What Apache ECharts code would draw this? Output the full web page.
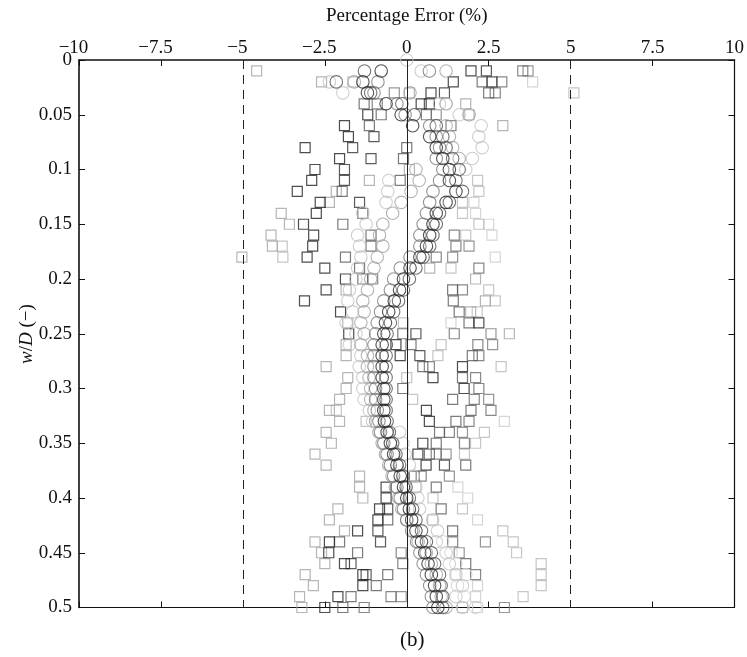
<!DOCTYPE html>
<html>
<head>
<meta charset="utf-8">
<script src="https://cdn.jsdelivr.net/npm/echarts@6/dist/echarts.min.js"></script>
<style>html,body{margin:0;padding:0;background:#fff;}#c{width:747px;height:657px;}</style>
</head>
<body>
<div id="c"></div>
<script>
// w/D levels (rows)
const wD = [0,0.01,0.02,0.03,0.04,0.05,0.06,0.07,0.08,0.09,
  0.10,0.11,0.12,0.13,0.14,0.15,0.16,0.17,0.18,0.19,
  0.20,0.21,0.22,0.23,0.24,0.25,0.26,0.27,0.28,0.29,
  0.30,0.31,0.32,0.33,0.34,0.35,0.36,0.37,0.38,0.39,
  0.40,0.41,0.42,0.43,0.44,0.45,0.46,0.47,0.48,0.49,0.50];
const xTicks = [-10,-7.5,-5,-2.5,0,2.5,5,7.5,10];
const yTicks = [0,0.05,0.1,0.15,0.2,0.25,0.3,0.35,0.4,0.45,0.5];

// Percentage error, squares (scattered cases)
const sqK1 = [null,1.96,1.42,0.74,0.44,-1.19,-1.9,-1.78,-3.1,-2.05,
  -2.8,-2.9,-3.34,-2.64,-2.76,-3.15,-2.84,-2.87,-3.04,-2.5,
  -1.87,-2.46,-3.12,-2.02,2.2,-1.77,-0.33,-0.2,1.7,0.8,
  1.75,null,0.6,0.69,null,0.49,0.34,0.59,null,-0.63,
  -0.63,-0.83,-0.88,-1.5,-2.36,-2.38,-1.9,-1.34,-1.34,-2.1,-2.5];
const sqK2 = [null,2.43,2.6,1.15,0.69,null,null,-1.0,-1.65,-1.09,
  -1.9,-1.9,null,-1.44,null,null,null,null,null,null,
  null,null,null,null,null,0.28,null,0.4,null,null,
  null,null,null,null,null,null,null,1.15,null,null,
  null,-0.58,null,-0.88,-0.8,null,-1.7,-1.24,null,null,null];
const sqG1 = [null,null,2.3,2.5,-1.3,-0.78,-1.14,null,0.0,-0.1,
  null,-0.2,-1.97,null,-1.34,-1.95,-1.09,-1.09,-1.87,-1.44,
  -1.34,1.4,1.42,1.6,1.9,-0.12,0.13,2.0,0.49,1.7,
  -0.12,1.4,1.96,1.5,1.0,0.9,0.69,1.8,0.23,0.9,
  null,1.05,-0.58,1.4,-2.05,-1.5,1.8,-0.58,-0.93,-1.7,-1.95];
const sqG2 = [null,3.54,2.9,2.7,-0.9,0.6,1.35,null,null,null,
  null,null,null,null,null,null,1.45,1.5,0.9,2.2,
  -1.04,1.7,null,null,null,1.45,2.17,2.2,0.69,2.1,
  2.2,2.06,2.57,1.9,1.3,1.76,0.9,null,0.44,null,
  null,null,null,null,1.4,-0.17,-0.12,2.1,null,-0.48,-1.3];
const sqG3 = [null,3.7,null,-0.38,null,0.9,null,null,null,null,
  null,null,null,null,null,null,null,1.9,1.4,null,
  null,null,null,null,null,2.57,2.62,null,null,null,
  null,2.5,null,null,1.7,null,1.2,null,1.3,null,
  null,null,null,null,2.4,1.6,null,null,null,-0.17,2.98];
const sqL1 = [null,-4.58,-2.6,0.08,1.8,1.9,2.93,null,null,null,
  0.08,-1.14,-2.15,-2.36,-3.83,-3.58,-4.14,-4.1,-5.03,0.7,
  2.1,-1.85,2.4,1.95,-1.8,3.13,-1.85,-1.85,-2.46,-1.8,
  -1.85,-2.05,-2.36,-2.05,-2.46,-2.3,-2.8,-2.46,-1.44,-1.44,
  -1.34,-2.1,-2.36,-1.9,-2.8,-2.6,-2.5,-3.1,-2.85,-3.27,-3.2];
const sqL2 = [null,null,-1.65,5.1,null,null,null,null,null,null,
  null,2.16,2.2,1.7,1.7,2.2,1.8,-3.8,-3.78,1.35,
  null,2.5,2.7,2.15,-0.1,null,1.05,0.95,2.88,0.0,
  null,0.18,-2.15,-1.24,2.37,2.1,1.76,null,null,0.28,
  0.8,1.7,0.79,2.93,3.25,3.35,4.1,4.1,4.1,3.55,1.7];
const sqL3 = [null,null,3.84,null,null,null,null,null,null,null,
  null,null,null,2.05,2.1,2.5,2.6,null,2.7,null,
  null,null,null,null,1.35,null,null,null,null,null,
  null,null,null,2.98,null,null,null,null,null,1.56,
  1.86,null,2.16,null,null,null,null,1.5,2.16,2.1,2.16];

// Percentage error, circles (tight S-shaped cases)
const cK = [null,-0.78,-1.34,-1.2,-0.63,-0.17,0.18,0.7,0.9,1.1,
  1.3,1.3,1.5,1.2,0.9,0.8,0.7,0.6,0.4,0.1,
  -0.1,-0.22,-0.38,-0.55,-0.65,-0.7,-0.75,-0.75,-0.75,-0.75,
  -0.7,-0.7,-0.7,-0.68,-0.6,-0.5,-0.4,-0.3,-0.2,-0.1,
  0.0,0.08,0.15,0.28,0.45,0.55,0.65,0.75,0.85,0.9,0.95];
const cD = [null,-1.29,-2.15,-1.1,-0.15,0.23,0.9,1.1,1.2,1.4,
  1.6,1.5,1.7,1.3,1.0,0.9,0.8,0.7,0.5,0.28,
  0.08,-0.1,-0.25,-0.4,-0.5,-0.6,-0.62,-0.63,-0.63,-0.63,
  -0.63,-0.63,-0.63,-0.6,-0.53,-0.43,-0.33,-0.22,-0.12,-0.02,
  0.08,0.18,0.28,0.45,0.6,0.75,0.85,1.0,1.05,1.1,1.1];
const cG = [null,0.69,-0.88,-1.0,-0.3,-0.05,0.7,0.9,1.0,0.9,
  1.1,1.0,0.8,0.7,0.6,0.5,0.4,0.4,0.1,-0.2,
  -0.4,-0.5,-0.7,-0.8,-0.9,-0.95,-1.0,-1.0,-1.0,-1.0,
  -0.95,-0.95,-0.9,-0.85,-0.8,-0.7,-0.6,-0.5,-0.4,-0.3,
  -0.2,-0.1,0.0,0.15,0.3,0.4,0.5,0.6,0.7,0.75,0.8];
const cM = [null,1.2,-1.6,0.1,1.2,1.9,1.2,1.3,1.4,1.6,
  0.28,0.38,0.13,-0.17,-0.43,-0.73,-0.83,-0.73,-0.9,-1.0,
  -1.1,-1.2,-1.34,-1.3,-1.4,-1.3,-1.4,-1.2,-1.2,-1.15,
  -1.1,-1.1,-1.0,-0.95,-0.85,-0.75,-0.65,-0.55,-0.45,-0.35,
  -0.25,-0.15,0.0,0.2,0.35,0.6,0.75,0.9,1.0,1.05,1.2];
const cL = [0.0,0.44,-2.36,-1.95,1.0,1.6,2.27,2.2,2.3,2.0,
  1.8,-0.55,-0.58,-0.63,-1.34,-1.24,-1.5,-1.44,-1.4,-1.5,
  -1.55,-1.75,-1.8,-1.65,-1.85,-1.55,-1.75,-1.4,-1.45,-1.34,
  -1.34,-1.3,-1.14,-1.04,-0.22,-0.12,-0.05,0.08,0.2,0.28,
  0.34,0.39,0.79,0.94,0.9,1.2,1.3,1.5,1.7,1.5,1.7];
const cL2 = [null,null,null,null,1.2,1.9,null,null,null,null,
  null,null,null,null,null,null,null,null,null,null,
  null,null,null,null,null,null,null,null,null,null,
  null,null,null,null,null,null,null,null,null,null,
  null,null,null,null,1.1,1.35,1.5,1.8,1.55,1.75,2.1];

function pts(xs){
  const out=[];
  xs.forEach((x,i)=>{ if(x!==null && i<wD.length) out.push([x,wD[i]]); });
  return out;
}
function sq(name,xs,col){
  return {name,type:'scatter',symbol:'rect',symbolSize:10,data:pts(xs),
    itemStyle:{color:'rgba(0,0,0,0)',borderColor:col,borderWidth:1.2},
    emphasis:{disabled:true},silent:true,z:2};
}
function ci(name,xs,col){
  return {name,type:'scatter',symbol:'circle',symbolSize:12.5,data:pts(xs),
    itemStyle:{color:'rgba(0,0,0,0)',borderColor:col,borderWidth:1.1},
    emphasis:{disabled:true},silent:true,z:3};
}
const FONT='"Liberation Serif","Times New Roman",serif';
const chart=echarts.init(document.getElementById('c'),null,{renderer:'canvas'});
const series=[
  sq('sqL3',sqL3,'#cccccc'),
  sq('sqL2',sqL2,'#b8b8b8'),
  sq('sqL1',sqL1,'#a4a4a4'),
  sq('sqG3',sqG3,'#7c7c7c'),
  sq('sqG2',sqG2,'#6a6a6a'),
  sq('sqG1',sqG1,'#5a5a5a'),
  sq('sqK2',sqK2,'#333333'),
  sq('sqK1',sqK1,'#222222'),
  ci('cL2',cL2,'#d2d2d2'),
  ci('cL',cL,'#c2c2c2'),
  ci('cM',cM,'#a0a0a0'),
  ci('cG',cG,'#787878'),
  ci('cD',cD,'#505050'),
  ci('cK',cK,'#262626'),
  {type:'line',data:[],silent:true,z:1,
    markLine:{silent:true,symbol:['none','none'],label:{show:false},animation:false,
      data:[
        {xAxis:-5,lineStyle:{type:[9,6],color:'#222',width:1}},
        {xAxis:5,lineStyle:{type:[9,6],color:'#222',width:1}},
        {xAxis:0,lineStyle:{type:'solid',color:'#222',width:1}}
      ]}}
];
const minusW = 11;
chart.setOption({
  animation:false,
  backgroundColor:'#fff',
  grid:{left:79,right:12,top:60,bottom:49.5,containLabel:false},
  xAxis:[{
    type:'value',position:'top',min:-10,max:10,interval:2.5,
    name:'Percentage Error (%)',nameLocation:'middle',nameGap:34,
    nameTextStyle:{fontFamily:FONT,fontSize:19,color:'#111'},
    axisLine:{show:true,onZero:false,lineStyle:{color:'#111',width:1.6}},
    axisTick:{show:true,inside:true,length:6,lineStyle:{color:'#111',width:1}},
    axisLabel:{show:true,margin:2,fontFamily:FONT,fontSize:19,color:'#111',
      formatter:v=> v<0 ? '{n|\u2212'+Math.abs(v)+'}' : '{p|'+v+'}',
      rich:{n:{fontFamily:FONT,fontSize:19,color:'#111',padding:[0,minusW,0,0]},
            p:{fontFamily:FONT,fontSize:19,color:'#111'}}},
    splitLine:{show:false}
  },{
    type:'value',position:'bottom',min:-10,max:10,interval:2.5,
    axisLine:{show:true,onZero:false,lineStyle:{color:'#111',width:1.2}},
    axisTick:{show:true,inside:true,length:6,lineStyle:{color:'#111',width:1}},
    axisLabel:{show:false},splitLine:{show:false}
  }],
  yAxis:[{
    type:'value',inverse:true,min:0,max:0.5,interval:0.05,position:'left',
    axisLine:{show:true,onZero:false,lineStyle:{color:'#111',width:1.6}},
    axisTick:{show:true,inside:true,length:6,lineStyle:{color:'#111',width:1}},
    axisLabel:{show:true,margin:7,fontFamily:FONT,fontSize:19,color:'#111'},
    splitLine:{show:false}
  },{
    type:'value',inverse:true,min:0,max:0.5,interval:0.05,position:'right',
    axisLine:{show:true,onZero:false,lineStyle:{color:'#111',width:1.2}},
    axisTick:{show:true,inside:true,length:6,lineStyle:{color:'#111',width:1}},
    axisLabel:{show:false},splitLine:{show:false}
  }],
  graphic:[
    {type:'text',left:400,top:630,
      style:{text:'(b)',fontFamily:FONT,fontSize:21,fill:'#111'}},
    {type:'text',x:27,y:334,rotation:Math.PI/2,
      style:{text:'{i|w}/{i|D} (\u2212)',align:'center',verticalAlign:'middle',
        fontFamily:FONT,fontSize:19,fill:'#111',
        rich:{i:{fontFamily:FONT,fontSize:19,fontStyle:'italic',fill:'#111'}}}}
  ],
  series:series
});
</script>
</body>
</html>
